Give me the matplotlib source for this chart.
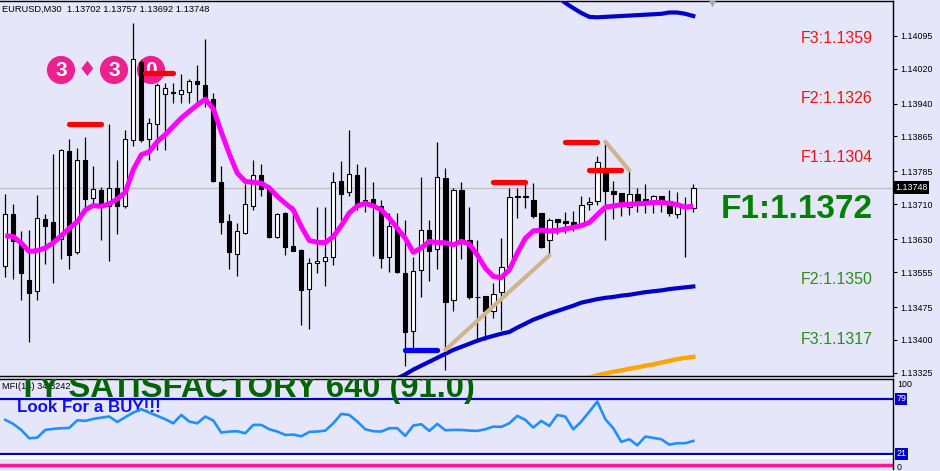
import matplotlib
matplotlib.use('Agg')
import matplotlib.pyplot as plt
import numpy as np

# EURUSD M30 candles
opens = [1.13568, 1.13687, 1.13624, 1.13537, 1.13511, 1.13677, 1.13669, 1.13630, 1.13832, 1.13600,
         1.13811, 1.13723, 1.13743, 1.13705, 1.13747, 1.13705, 1.13856, 1.14034, 1.13860, 1.13893,
         1.13962, 1.13967, 1.13962, 1.13966, 1.13992, 1.13983, 1.13951, 1.13761, 1.13672, 1.13597,
         1.13645, 1.13707, 1.13776, 1.13744, 1.13634, 1.13690, 1.13615, 1.13605, 1.13517, 1.13575,
         1.13580, 1.13589, 1.13763, 1.13738, 1.13776, 1.13708, 1.13722, 1.13706, 1.13589, 1.13656,
         1.13553, 1.13420, 1.13559, 1.13651, 1.13607, 1.13770, 1.13491, 1.13743, 1.13629, 1.13498,
         1.13500, 1.13466, 1.13509, 1.13566, 1.13727, 1.13727, 1.13720, 1.13690, 1.13629, 1.13677,
         1.13671, 1.13669, 1.13661, 1.13710, 1.13717, 1.13784, 1.13741, 1.13735, 1.13703, 1.13733,
         1.13722, 1.13713, 1.13728, 1.13717, 1.13687, 1.13708, 1.13702]
highs = [1.13733, 1.13710, 1.13649, 1.13651, 1.13731, 1.13688, 1.13824, 1.13836, 1.13859, 1.13839,
         1.13864, 1.13798, 1.13749, 1.13894, 1.13811, 1.13880, 1.14124, 1.14040, 1.13907, 1.13988,
         1.13988, 1.13988, 1.14008, 1.13996, 1.14028, 1.14088, 1.13964, 1.13798, 1.13688, 1.13667,
         1.13755, 1.13811, 1.13802, 1.13754, 1.13690, 1.13692, 1.13705, 1.13607, 1.13587, 1.13703,
         1.13703, 1.13784, 1.13809, 1.13880, 1.13802, 1.13795, 1.13761, 1.13720, 1.13690, 1.13690,
         1.13674, 1.13590, 1.13773, 1.13674, 1.13852, 1.13792, 1.13746, 1.13761, 1.13704, 1.13629,
         1.13500, 1.13531, 1.13632, 1.13747, 1.13747, 1.13755, 1.13758, 1.13690, 1.13678, 1.13677,
         1.13693, 1.13695, 1.13728, 1.13726, 1.13819, 1.13853, 1.13763, 1.13735, 1.13789, 1.13747,
         1.13757, 1.13731, 1.13728, 1.13743, 1.13738, 1.13727, 1.13757]
lows = [1.13543, 1.13540, 1.13490, 1.13396, 1.13490, 1.13573, 1.13531, 1.13584, 1.13563, 1.13596,
        1.13694, 1.13709, 1.13629, 1.13581, 1.13643, 1.13701, 1.13842, 1.13852, 1.13810, 1.13833,
        1.13833, 1.13941, 1.13942, 1.13942, 1.13941, 1.13933, 1.13760, 1.13642, 1.13563, 1.13547,
        1.13641, 1.13696, 1.13729, 1.13632, 1.13633, 1.13593, 1.13602, 1.13433, 1.13424, 1.13552,
        1.13522, 1.13572, 1.13674, 1.13728, 1.13697, 1.13693, 1.13592, 1.13565, 1.13554, 1.13552,
        1.13341, 1.13382, 1.13499, 1.13535, 1.13562, 1.13332, 1.13467, 1.13584, 1.13493, 1.13394,
        1.13400, 1.13450, 1.13423, 1.13555, 1.13678, 1.13701, 1.13678, 1.13610, 1.13594, 1.13642,
        1.13645, 1.13648, 1.13659, 1.13697, 1.13709, 1.13629, 1.13677, 1.13684, 1.13686, 1.13693,
        1.13690, 1.13690, 1.13692, 1.13682, 1.13679, 1.13590, 1.13692]
closes = [1.13687, 1.13625, 1.13552, 1.13508, 1.13678, 1.13661, 1.13629, 1.13834, 1.13595, 1.13811,
          1.13721, 1.13744, 1.13705, 1.13747, 1.13705, 1.13859, 1.14041, 1.13857, 1.13895, 1.13983,
          1.13975, 1.13963, 1.13971, 1.13992, 1.13984, 1.13947, 1.13762, 1.13670, 1.13600, 1.13648,
          1.13710, 1.13776, 1.13744, 1.13636, 1.13687, 1.13613, 1.13604, 1.13515, 1.13575, 1.13580,
          1.13589, 1.13760, 1.13734, 1.13779, 1.13709, 1.13719, 1.13707, 1.13588, 1.13660, 1.13556,
          1.13419, 1.13557, 1.13651, 1.13604, 1.13772, 1.13486, 1.13743, 1.13626, 1.13499, 1.13497,
          1.13465, 1.13505, 1.13566, 1.13726, 1.13728, 1.13727, 1.13684, 1.13613, 1.13674, 1.13669,
          1.13668, 1.13661, 1.13708, 1.13715, 1.13807, 1.13741, 1.13734, 1.13707, 1.13733, 1.13718,
          1.13712, 1.13728, 1.13718, 1.13689, 1.13707, 1.13703, 1.13748]

# magenta moving average
ma_fast = [1.13638, 1.13636, 1.13621, 1.13602, 1.13604, 1.13610, 1.13622, 1.13638, 1.13655, 1.13670,
           1.13697, 1.13707, 1.13705, 1.13711, 1.13722, 1.13737, 1.13789, 1.13823, 1.13830, 1.13853,
           1.13869, 1.13888, 1.13907, 1.13922, 1.13937, 1.13950, 1.13928, 1.13875, 1.13825, 1.13781,
           1.13762, 1.13760, 1.13758, 1.13747, 1.13728, 1.13712, 1.13697, 1.13659, 1.13627, 1.13623,
           1.13622, 1.13636, 1.13661, 1.13690, 1.13706, 1.13712, 1.13706, 1.13697, 1.13678, 1.13655,
           1.13632, 1.13600, 1.13610, 1.13625, 1.13622, 1.13622, 1.13617, 1.13625, 1.13619, 1.13594,
           1.13564, 1.13545, 1.13542, 1.13560, 1.13598, 1.13632, 1.13649, 1.13651, 1.13649, 1.13650,
           1.13653, 1.13657, 1.13661, 1.13668, 1.13686, 1.13703, 1.13706, 1.13709, 1.13710, 1.13711,
           1.13712, 1.13714, 1.13714, 1.13712, 1.13709, 1.13703, 1.13706]

# lower blue band starts at bar 49, upper blue band at bar 69, orange at bar 73
blue_low_start = 49
blue_low = [1.13312, 1.13321, 1.13332, 1.13341, 1.13350, 1.13359, 1.13368, 1.13377, 1.13384, 1.13391,
            1.13398, 1.13404, 1.13409, 1.13414, 1.13418, 1.13428, 1.13437, 1.13446, 1.13453, 1.13460,
            1.13466, 1.13472, 1.13478, 1.13485, 1.13489, 1.13493, 1.13496, 1.13498, 1.13501, 1.13503,
            1.13506, 1.13509, 1.13511, 1.13513, 1.13516, 1.13518, 1.13520, 1.13522]
blue_high_start = 69
blue_high = [1.14184, 1.14170, 1.14158, 1.14147, 1.14138, 1.14137, 1.14138, 1.14139, 1.14140, 1.14141,
             1.14142, 1.14143, 1.14144, 1.14145, 1.14148, 1.14148, 1.14145, 1.14140]
orange_start = 73
orange = [1.13314, 1.13319, 1.13323, 1.13327, 1.13330, 1.13334, 1.13337, 1.13341, 1.13344, 1.13348,
          1.13352, 1.13356, 1.13359, 1.13361]

# swing levels: (from bar, to bar, price)
red_levels = [(8, 12, 1.13894), (17.5, 21, 1.14010), (61, 65, 1.13760), (70, 74, 1.13853), (73, 77, 1.13787)]
blue_levels = [(50, 54, 1.13377)]
tan_lines = [((55, 1.13377), (68, 1.13593)), ((75, 1.13853), (78, 1.13787))]

last_price = 1.13748
price_ticks = [1.14095, 1.14020, 1.13940, 1.13865, 1.13785, 1.13710, 1.13630, 1.13555, 1.13475, 1.13400, 1.13325]

# MFI(14)
mfi = [56.9, 52.6, 46.3, 37.5, 38.2, 46.3, 47.4, 48.1, 48.4, 56.5,
       55.8, 57.9, 59.3, 60.4, 54.7, 59.7, 64.6, 68.1, 64.6, 61.1,
       57.6, 53.3, 62.1, 55.1, 53.3, 60.4, 56.2, 43.5, 44.6, 44.9,
       42.8, 51.6, 51.6, 47.0, 44.6, 41.0, 41.4, 39.6, 44.2, 44.6,
       45.6, 53.3, 63.2, 62.1, 55.1, 47.0, 44.9, 44.6, 48.1, 48.1,
       40.0, 50.9, 52.3, 45.3, 52.6, 46.0, 46.3, 46.3, 45.6, 45.3,
       47.0, 49.8, 49.5, 53.3, 61.1, 56.9, 48.8, 55.8, 50.5, 62.1,
       60.4, 47.0, 55.1, 65.6, 76.2, 57.6, 48.1, 33.7, 36.5, 30.1,
       39.3, 37.9, 36.5, 30.8, 32.3, 32.3, 34.7]
mfi_value_label = 34.3242
mfi_levels = [79, 21]
mfi_white_level = 17.7
mfi_pink_level = 9.3

fib_up = ['F3:1.1359', 'F2:1.1326', 'F1:1.1304']
fib_down = ['F2:1.1350', 'F3:1.1317']
fib_main = 'F1:1.1372'
strength_text = 'TY SATISFACTORY 640 (91.0)'
signal_text = 'Look For a BUY!!!'
header = 'EURUSD,M30  1.13702 1.13757 1.13692 1.13748'
timer_digits = ['3', '3', '0']

BG = '#E6E6FA'
PINK = '#EE1F8E'
FONT = 'Liberation Sans'
W, H = 940, 471


def px_box(left, top, right, bottom):
    return [left / W, 1 - bottom / H, (right - left) / W, (bottom - top) / H]


fig = plt.figure(figsize=(W / 100, H / 100), dpi=100, facecolor=BG)
ax = fig.add_axes(px_box(0, 1, 893, 376), facecolor=BG)
ax2 = fig.add_axes(px_box(0, 379, 893, 469), facecolor=BG)

x_left, x_right = -0.66, 110.96
for a in (ax, ax2):
    a.set_xlim(x_left, x_right)
    a.set_xticks([])
    a.spines['left'].set_visible(False)
    for s in ('top', 'right', 'bottom'):
        a.spines[s].set_color('black')
        a.spines[s].set_linewidth(1.0)
ax2.spines['bottom'].set_visible(False)

# ---- main window ----
ax.set_ylim(1.133174, 1.141743)
o, h, l, c = (np.array(v) for v in (opens, highs, lows, closes))
xs = np.arange(len(o))
up = c >= o
body_lo = np.minimum(o, c)
body_h = np.maximum(np.abs(c - o), 0.000012)

ax.axhline(last_price, color='#C0C0C0', lw=1.0, zorder=1)
ax.vlines(xs, l, h, color='black', lw=0.9, zorder=3)
ax.bar(xs[up], body_h[up], bottom=body_lo[up], width=0.55, color='white',
       edgecolor='black', linewidth=0.8, zorder=4)
ax.bar(xs[~up], body_h[~up], bottom=body_lo[~up], width=0.55, color='black',
       edgecolor='black', linewidth=0.8, zorder=4)

ax.plot(xs, ma_fast, color='#FF00FF', lw=3.6, zorder=5, solid_capstyle='butt')
ax.plot(np.arange(len(blue_low)) + blue_low_start, blue_low, color='#0000CD', lw=3.0, zorder=5)
ax.plot(np.arange(len(blue_high)) + blue_high_start, blue_high, color='#0000CD', lw=3.0, zorder=5)
ax.plot(np.arange(len(orange)) + orange_start, orange, color='#FFA500', lw=3.2, zorder=5)

for x0, x1, p in red_levels:
    ax.plot([x0, x1], [p, p], color='#FF0000', lw=3.8, solid_capstyle='round', zorder=6)
for x0, x1, p in blue_levels:
    ax.plot([x0, x1], [p, p], color='#0000FF', lw=3.8, solid_capstyle='round', zorder=6)
for (x0, p0), (x1, p1) in tan_lines:
    ax.plot([x0, x1], [p0, p1], color='#D2B48C', lw=3.0, solid_capstyle='round', zorder=6)

ax.plot([88.3], [1.14169], marker='v', color='#A8A8A8', ms=6, mec='none', zorder=6)

# price scale on the right
ax.yaxis.tick_right()
ax.set_yticks(price_ticks)
ax.set_yticklabels([f'{t:.5f}' for t in price_ticks], fontsize=6.4, family=FONT)
ax.tick_params(axis='y', direction='out', length=3, width=0.8, pad=2, colors='black')
ax.text(1.0025, last_price, f'{last_price:.5f}', transform=ax.get_yaxis_transform(),
        ha='left', va='center', fontsize=6.4, family=FONT, color='white',
        bbox=dict(fc='black', ec='none', pad=1.2), zorder=10, clip_on=False)

# header and countdown
ax.text(2 / 893, (376 - 9.5) / 375, header, transform=ax.transAxes, ha='left', va='center',
        fontsize=6.7, family=FONT, color='black', zorder=8)
for d, xp in zip(timer_digits, [61, 114, 151]):
    ax.text(xp / 893, (376 - 70) / 375, d, transform=ax.transAxes, ha='center', va='center',
            color='white', fontsize=15, fontweight='bold', family=FONT, zorder=2,
            bbox=dict(boxstyle='circle,pad=0.22', fc=PINK, ec='none'))
ax.text(86.7 / 893, (376 - 70) / 375, '\u2666', transform=ax.transAxes, ha='center', va='center',
        color=PINK, fontsize=15, family='DejaVu Sans', zorder=2)

# fibo labels
for txt, yp in zip(fib_up, [38.3, 98.3, 157.7]):
    ax.text(873 / 893, (376 - yp) / 375, txt, transform=ax.transAxes, ha='right', va='center',
            fontsize=11.5, family=FONT, color='#F01414', zorder=8)
for txt, yp in zip(fib_down, [280, 340]):
    ax.text(873 / 893, (376 - yp) / 375, txt, transform=ax.transAxes, ha='right', va='center',
            fontsize=11.5, family=FONT, color='#2E8B1E', zorder=8)
ax.text(873 / 893, (376 - 209) / 375, fib_main, transform=ax.transAxes, ha='right', va='center',
        fontsize=24, fontweight='bold', family=FONT, color='#008000', zorder=8)

# ---- MFI window ----
ax2.set_ylim(5.1, 100)
ax2.set_yticks([])
ax2.axhline(mfi_levels[0], color='#0000CD', lw=1.6, zorder=2)
ax2.axhline(mfi_levels[1], color='#0000CD', lw=1.6, zorder=2)
ax2.axhline(mfi_white_level, color='white', lw=2.8, zorder=2)
ax2.axhline(mfi_pink_level, color='#FF1493', lw=2.5, zorder=2)

ax2.text(2 / 893, (469 - 386.7) / 90, f'MFI(14) {mfi_value_label:.4f}', transform=ax2.transAxes,
         ha='left', va='center', fontsize=6.7, family=FONT, color='black', zorder=3)
ax2.text(18 / 893, (469 - 397.3) / 90, strength_text, transform=ax2.transAxes, ha='left',
         va='baseline', fontsize=23.6, fontweight='bold', family=FONT, color='#006400', zorder=4,
         clip_on=True)
ax2.text(17.3 / 893, (469 - 411.7) / 90, signal_text, transform=ax2.transAxes, ha='left',
         va='baseline', fontsize=12.2, fontweight='bold', family=FONT, color='#1010EE', zorder=4)
ax2.plot(xs, mfi, color='#1E90FF', lw=1.9, zorder=5)

yt = ax2.get_yaxis_transform()
ax2.text(1.0045, 93.7, '100', transform=yt, ha='left', va='center', fontsize=6.4, family=FONT,
         clip_on=False)
ax2.text(1.0045, 7.0, '0', transform=yt, ha='left', va='center', fontsize=6.4, family=FONT,
         clip_on=False)
for lv in mfi_levels:
    ax2.text(1.0035, lv, str(lv), transform=yt, ha='left', va='center', fontsize=6.4, family=FONT,
             color='white', bbox=dict(fc='#0000CD', ec='none', pad=1.0), clip_on=False)

fig.savefig('out.png', dpi=100, facecolor=BG)
